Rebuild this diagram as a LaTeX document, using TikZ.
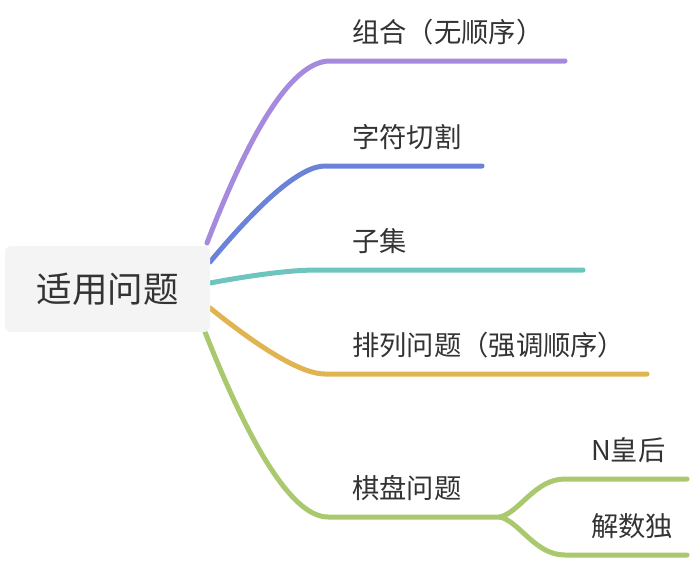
\documentclass[tikz,border=0pt]{standalone}
\usepackage{fontspec}
\setmainfont{Noto Sans CJK SC}
\definecolor{cpurple}{HTML}{A68ADE}
\definecolor{cblue}{HTML}{6A82D8}
\definecolor{cteal}{HTML}{6EC4BE}
\definecolor{cyellow}{HTML}{E0B450}
\definecolor{cgreen}{HTML}{AAC86E}
\definecolor{ctext}{HTML}{333333}
\definecolor{cbox}{HTML}{F4F4F4}
\begin{document}
\begin{tikzpicture}[x=1pt,y=-1pt,
  branch/.style={line width=5pt,line cap=round,line join=round},
  lab/.style={anchor=west,inner sep=0pt,text=ctext,font=\fontsize{27.3}{31}\selectfont},
  rootbox/.style={fill=cbox,rounded corners=6pt,minimum width=205pt,minimum height=86pt,inner sep=0pt,text=ctext,font=\fontsize{35.5}{40}\selectfont}]
\useasboundingbox (0,0) rectangle (696,560);
% coordinates
\coordinate (s1) at (207,243); \coordinate (e1) at (565,61);
\coordinate (s2) at (210,262); \coordinate (e2) at (482,166);
\coordinate (s3) at (210,283); \coordinate (e3) at (583,270);
\coordinate (s4) at (210,308); \coordinate (e4) at (647,374);
\coordinate (s5) at (205,332); \coordinate (f5) at (500,517);
\coordinate (e6) at (687,479); \coordinate (e7) at (687,555);
% branches
\draw[branch,cpurple] (s1) .. controls (253.7,121.7) and (294.7,61) .. (330,61) -- (e1);
\draw[branch,cblue] (s2) .. controls (263.3,198) and (301.7,166) .. (325,166) -- (e2);
\draw[branch,cteal] (s3) .. controls (256.7,274.3) and (292.3,270) .. (317,270) -- (e3);
\draw[branch,cyellow] (s4) .. controls (264.7,352) and (303,374) .. (325,374) -- (e4);
\draw[branch,cgreen] (s5) .. controls (253.7,455.3) and (294.7,517) .. (328,517) -- (f5);
\draw[branch,cgreen] (f5) .. controls (520,512) and (535,479) .. (565,479) -- (e6);
\draw[branch,cgreen] (f5) .. controls (520,522) and (535,555) .. (565,555) -- (e7);
% root
\node[rootbox] (root) at (107.5,289) {适用问题};
% labels
\node[lab] (l1) at (352,32.5) {组合（无顺序）};
\node[lab] (l2) at (352,137.5) {字符切割};
\node[lab] (l3) at (352,241.5) {子集};
\node[lab] (l4) at (352,345.5) {排列问题（强调顺序）};
\node[lab] (l5) at (352,488) {棋盘问题};
\node[lab] (l6) at (591,450) {N皇后};
\node[lab] (l7) at (591,526) {解数独};
\end{tikzpicture}
\end{document}
